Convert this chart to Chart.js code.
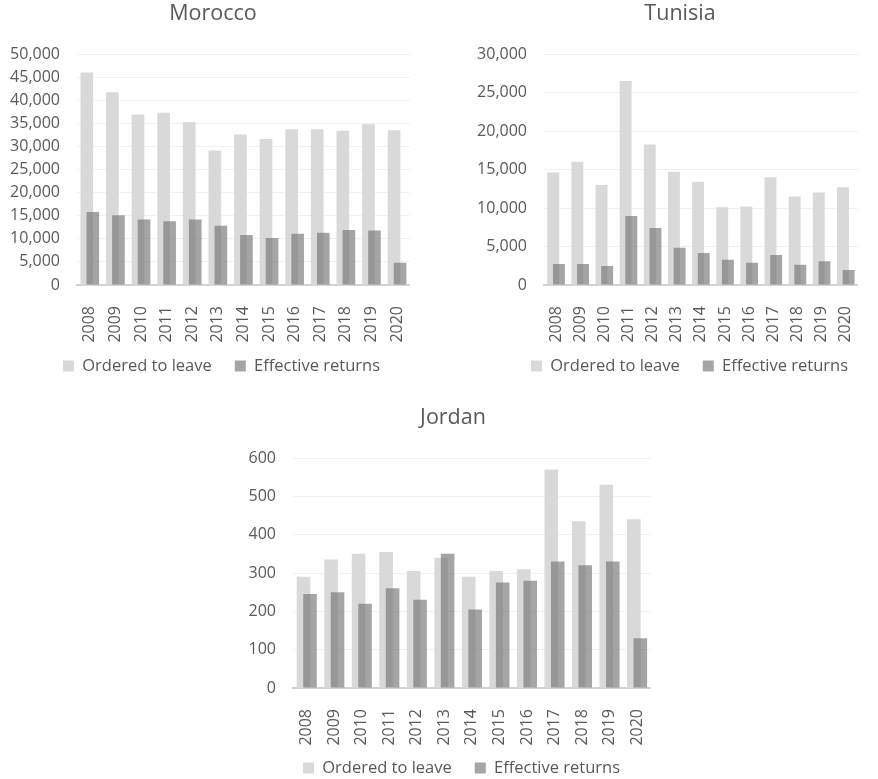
<!DOCTYPE html>
<html>
<head>
<meta charset="utf-8">
<script src="https://cdn.jsdelivr.net/npm/chart.js@4.4.1/dist/chart.umd.min.js"></script>
<style>
  html, body { margin: 0; padding: 0; background: #ffffff; width: 878px; height: 779px; overflow: hidden; }
  canvas.panel { position: absolute; display: block; }
</style>
</head>
<body>
<canvas id="morocco" class="panel" style="left:0px;top:0px" width="430" height="399"></canvas>
<canvas id="tunisia" class="panel" style="left:462px;top:0px" width="416" height="399"></canvas>
<canvas id="jordan" class="panel" style="left:240px;top:404px" width="430" height="398"></canvas>
<script>
// Return decisions by country of origin, 2008-2020
const years = ['2008', '2009', '2010', '2011', '2012', '2013', '2014', '2015', '2016', '2017', '2018', '2019', '2020'];
const seriesNames = ['Ordered to leave', 'Effective returns'];

const moroccoOrdered = [46000, 41700, 36900, 37300, 35300, 29100, 32600, 31600, 33700, 33700, 33400, 34800, 33500];
const moroccoReturns = [15800, 15100, 14200, 13800, 14200, 12800, 10800, 10200, 11100, 11300, 11900, 11800, 4800];

const tunisiaOrdered = [14600, 16000, 13000, 26500, 18250, 14700, 13400, 10100, 10200, 14000, 11500, 12000, 12700];
const tunisiaReturns = [2730, 2730, 2470, 8970, 7410, 4850, 4160, 3290, 2900, 3900, 2640, 3080, 1950];

const jordanOrdered = [290, 335, 350, 355, 305, 340, 290, 305, 310, 570, 435, 530, 440];
const jordanReturns = [245, 250, 220, 260, 230, 350, 205, 275, 280, 330, 320, 330, 130];

const TEXT = '#595959';
const FONT = "'Open Sans', 'Noto Sans', sans-serif";
const TITLE_SIZE = 21.5;
const TITLE_PAD_TOP = 1;
const LEGEND_SIZE = 16.5;
const LEGEND_GAP = 23;
const X_AXIS_HEIGHT = 60;

Chart.defaults.font.family = FONT;
Chart.defaults.color = TEXT;

// The returns series is semi-transparent and sits in front of the orders series.
const returnsOnTop = {
  id: 'returnsOnTop',
  beforeDatasetDraw(chart, args) {
    if (args.index === 1) return false;
  },
  afterDatasetsDraw(chart) {
    const meta = chart.getDatasetMeta(1);
    if (!meta.visible) return;
    const a = chart.chartArea;
    const ctx = chart.ctx;
    ctx.save();
    ctx.beginPath();
    ctx.rect(a.left, a.top - 2, a.right - a.left, a.bottom - a.top + 2);
    ctx.clip();
    meta.controller.draw();
    ctx.restore();
  }
};

// Centres the title and places the legend row independently of the plot area.
const placeBlocks = {
  id: 'placeBlocks',
  afterLayout(chart, args, opts) {
    const t = chart.titleBlock;
    if (t && opts.titleX != null) {
      const offset = TITLE_SIZE * 1.2 / 2 + TITLE_PAD_TOP;
      const dx = opts.titleX - (t.left + t.right) / 2;
      const dy = opts.titleY - (t.top + offset);
      t.left += dx; t.right += dx; t.top += dy; t.bottom += dy;
    }
    const lg = chart.legend;
    if (lg && lg.lineWidths && opts.legendX != null) {
      const lw = lg.lineWidths[0];
      const curX = (lg.left + LEGEND_GAP + lg.right - lw) / 2;
      const curY = lg.top + LEGEND_GAP + LEGEND_SIZE / 2;
      const dx = opts.legendX - curX;
      const dy = opts.legendY - curY;
      lg.left += dx; lg.right += dx; lg.top += dy; lg.bottom += dy;
    }
  }
};

function buildChart(id, title, ordered, returns, yMax, yStep, frame) {
  const canvas = document.getElementById(id);
  return new Chart(canvas, {
    type: 'bar',
    data: {
      labels: years,
      datasets: [
        {
          label: seriesNames[0],
          data: ordered,
          backgroundColor: '#d9d9d9',
          borderWidth: 0
        },
        {
          label: seriesNames[1],
          data: returns,
          backgroundColor: 'rgba(110,110,110,0.62)',
          borderWidth: 0
        }
      ]
    },
    options: {
      responsive: false,
      animation: false,
      devicePixelRatio: 1,
      categoryPercentage: 0.47,
      barPercentage: 2.1,
      layout: {
        padding: { left: 0, right: frame.padRight, top: 0, bottom: frame.padBottom }
      },
      plugins: {
        tooltip: { enabled: false },
        title: {
          display: true,
          text: title,
          color: TEXT,
          font: { family: FONT, size: TITLE_SIZE, weight: 'normal', lineHeight: 1.2 },
          padding: { top: TITLE_PAD_TOP, bottom: 54 - TITLE_PAD_TOP - TITLE_SIZE * 1.2 }
        },
        legend: {
          display: true,
          position: 'bottom',
          labels: {
            color: TEXT,
            font: { family: FONT, size: LEGEND_SIZE },
            boxWidth: 11,
            boxHeight: 11,
            padding: LEGEND_GAP
          }
        },
        placeBlocks: {
          titleX: frame.titleX, titleY: 13.5,
          legendX: frame.legendX, legendY: frame.legendY
        }
      },
      scales: {
        x: {
          grid: { display: false },
          border: { display: true, color: '#d4d4d4', width: 2 },
          ticks: {
            autoSkip: false,
            minRotation: 90,
            maxRotation: 90,
            padding: 13,
            color: TEXT,
            font: { family: FONT, size: 16 }
          },
          afterFit(scale) { scale.height = X_AXIS_HEIGHT; }
        },
        y: {
          min: 0,
          max: yMax,
          grid: { color: '#f0f0f0', lineWidth: 1, drawTicks: false },
          border: { display: false },
          ticks: {
            stepSize: yStep,
            padding: 17,
            color: TEXT,
            font: { family: FONT, size: 16 },
            callback: (v) => Number(v).toLocaleString('en-US')
          },
          afterFit(scale) { scale.width = frame.yWidth; }
        }
      }
    },
    plugins: [returnsOnTop, placeBlocks]
  });
}

// Legend block height = font size + gap + 10; plot bottom = canvas height - padding - legend - axis.
const legendBlock = LEGEND_SIZE + LEGEND_GAP + 10;

buildChart('morocco', 'Morocco', moroccoOrdered, moroccoReturns, 50000, 5000,
  { yWidth: 77, padRight: 19, padBottom: 399 - 285 - X_AXIS_HEIGHT - legendBlock,
    titleX: 213, legendX: 63, legendY: 366 });
buildChart('tunisia', 'Tunisia', tunisiaOrdered, tunisiaReturns, 30000, 5000,
  { yWidth: 82, padRight: 1, padBottom: 399 - 285 - X_AXIS_HEIGHT - legendBlock,
    titleX: 218, legendX: 69, legendY: 366 });
buildChart('jordan', 'Jordan', jordanOrdered, jordanReturns, 600, 100,
  { yWidth: 53, padRight: 19, padBottom: 398 - 284 - X_AXIS_HEIGHT - legendBlock,
    titleX: 213, legendX: 63, legendY: 364 });
</script>
</body>
</html>
